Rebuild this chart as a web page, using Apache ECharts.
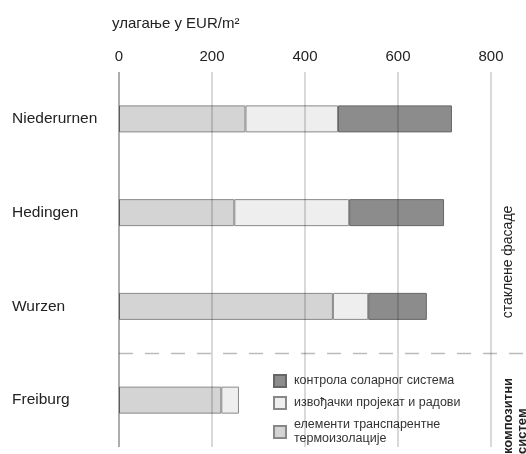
<!DOCTYPE html>
<html>
<head>
<meta charset="utf-8">
<script src="https://cdn.jsdelivr.net/npm/echarts@6/dist/echarts.min.js"></script>
<style>
html,body{margin:0;padding:0;background:#fff;}
#c{width:526px;height:454px;}
</style>
</head>
<body>
<div id="c"></div>
<script>
var categories = ['Niederurnen', 'Hedingen', 'Wurzen', 'Freiburg'];
var transparentInsulation = [272, 248, 460, 220];
var designWorks = [199, 247, 76, 38];
var solarControl = [245, 204, 126, null];
var tickValues = [0, 200, 400, 600, 800];

var nameSolar = 'контрола соларног система';
var nameDesign = 'извођачки пројекат и радови';
var nameTransp = 'елементи транспарентне\nтермоизолације';

var FONT = '"Liberation Sans", Arial, sans-serif';
var chart = echarts.init(document.getElementById('c'), null, {renderer: 'canvas'});

var gridLines = tickValues.map(function (v, i) {
  return {
    xAxis: v,
    lineStyle: {
      color: i === 0 ? 'rgba(0,0,0,0.32)' : 'rgba(0,0,0,0.2)',
      width: i === 0 ? 2 : 1.5,
      type: 'solid'
    }
  };
});

var option = {
  animation: false,
  backgroundColor: '#fff',
  textStyle: {fontFamily: FONT},
  title: {
    text: 'улагање у EUR/m²',
    left: 107,
    top: 11,
    textStyle: {fontSize: 15, fontWeight: 'normal', color: '#222', fontFamily: FONT}
  },
  grid: {left: 119, right: 35, top: 72, bottom: 7, containLabel: false},
  xAxis: {
    type: 'value',
    position: 'top',
    min: 0,
    max: 800,
    interval: 200,
    axisLine: {show: false},
    axisTick: {show: false},
    splitLine: {show: false},
    axisLabel: {fontSize: 15, color: '#222', margin: 8, fontFamily: FONT}
  },
  yAxis: {
    type: 'category',
    inverse: true,
    data: categories,
    axisLine: {show: false},
    axisTick: {show: false},
    splitLine: {show: false},
    axisLabel: {align: 'left', margin: 107, fontSize: 15.5, color: '#222', fontFamily: FONT}
  },
  legend: {
    orient: 'vertical',
    left: 273,
    top: 374,
    padding: 0,
    height: 80,
    icon: 'rect',
    itemWidth: 12,
    itemHeight: 12,
    itemGap: 8,
    data: [nameSolar, nameDesign, nameTransp],
    textStyle: {fontSize: 12.5, color: '#333', fontFamily: FONT, lineHeight: 14, padding: [0, 0, 0, 3]},
    selectedMode: false
  },
  series: [
    {
      name: nameTransp,
      type: 'bar',
      stack: 'total',
      barWidth: 27,
      data: transparentInsulation,
      itemStyle: {color: '#d4d4d4', borderColor: '#888888', borderWidth: 1},
      markLine: {
        silent: true,
        symbol: 'none',
        label: {show: false},
        z: 10,
        data: gridLines
      }
    },
    {
      name: nameDesign,
      type: 'bar',
      stack: 'total',
      barWidth: 27,
      data: designWorks,
      itemStyle: {color: '#eeeeee', borderColor: '#888888', borderWidth: 1}
    },
    {
      name: nameSolar,
      type: 'bar',
      stack: 'total',
      barWidth: 27,
      data: solarControl,
      itemStyle: {color: '#8c8c8c', borderColor: '#666666', borderWidth: 1}
    }
  ]
};
chart.setOption(option);

var yW = chart.convertToPixel({yAxisIndex: 0}, 'Wurzen');
var yF = chart.convertToPixel({yAxisIndex: 0}, 'Freiburg');
var ySep = Math.round((yW + yF) / 2) + 0.5;
var x0 = chart.convertToPixel({xAxisIndex: 0}, 0);
var x800 = chart.convertToPixel({xAxisIndex: 0}, 800);

chart.setOption({
  graphic: [
    {
      type: 'line',
      silent: true,
      z: 5,
      shape: {x1: x0, y1: ySep, x2: 526, y2: ySep},
      style: {stroke: '#bbbbbb', lineWidth: 1.5, lineDash: [14, 12]}
    },
    {
      type: 'text',
      silent: true,
      x: x800 + 17,
      y: 262,
      rotation: Math.PI / 2,
      style: {
        text: 'стаклене фасаде',
        fontSize: 14,
        fill: '#222',
        fontFamily: FONT,
        align: 'center',
        verticalAlign: 'middle'
      }
    },
    {
      type: 'text',
      silent: true,
      x: x800 + 10,
      y: 454,
      rotation: Math.PI / 2,
      style: {
        text: 'композитни\nсистем',
        fontSize: 13,
        fontWeight: 'bold',
        lineHeight: 14,
        fill: '#222',
        fontFamily: FONT,
        align: 'left',
        verticalAlign: 'top'
      }
    }
  ]
});
</script>
</body>
</html>
